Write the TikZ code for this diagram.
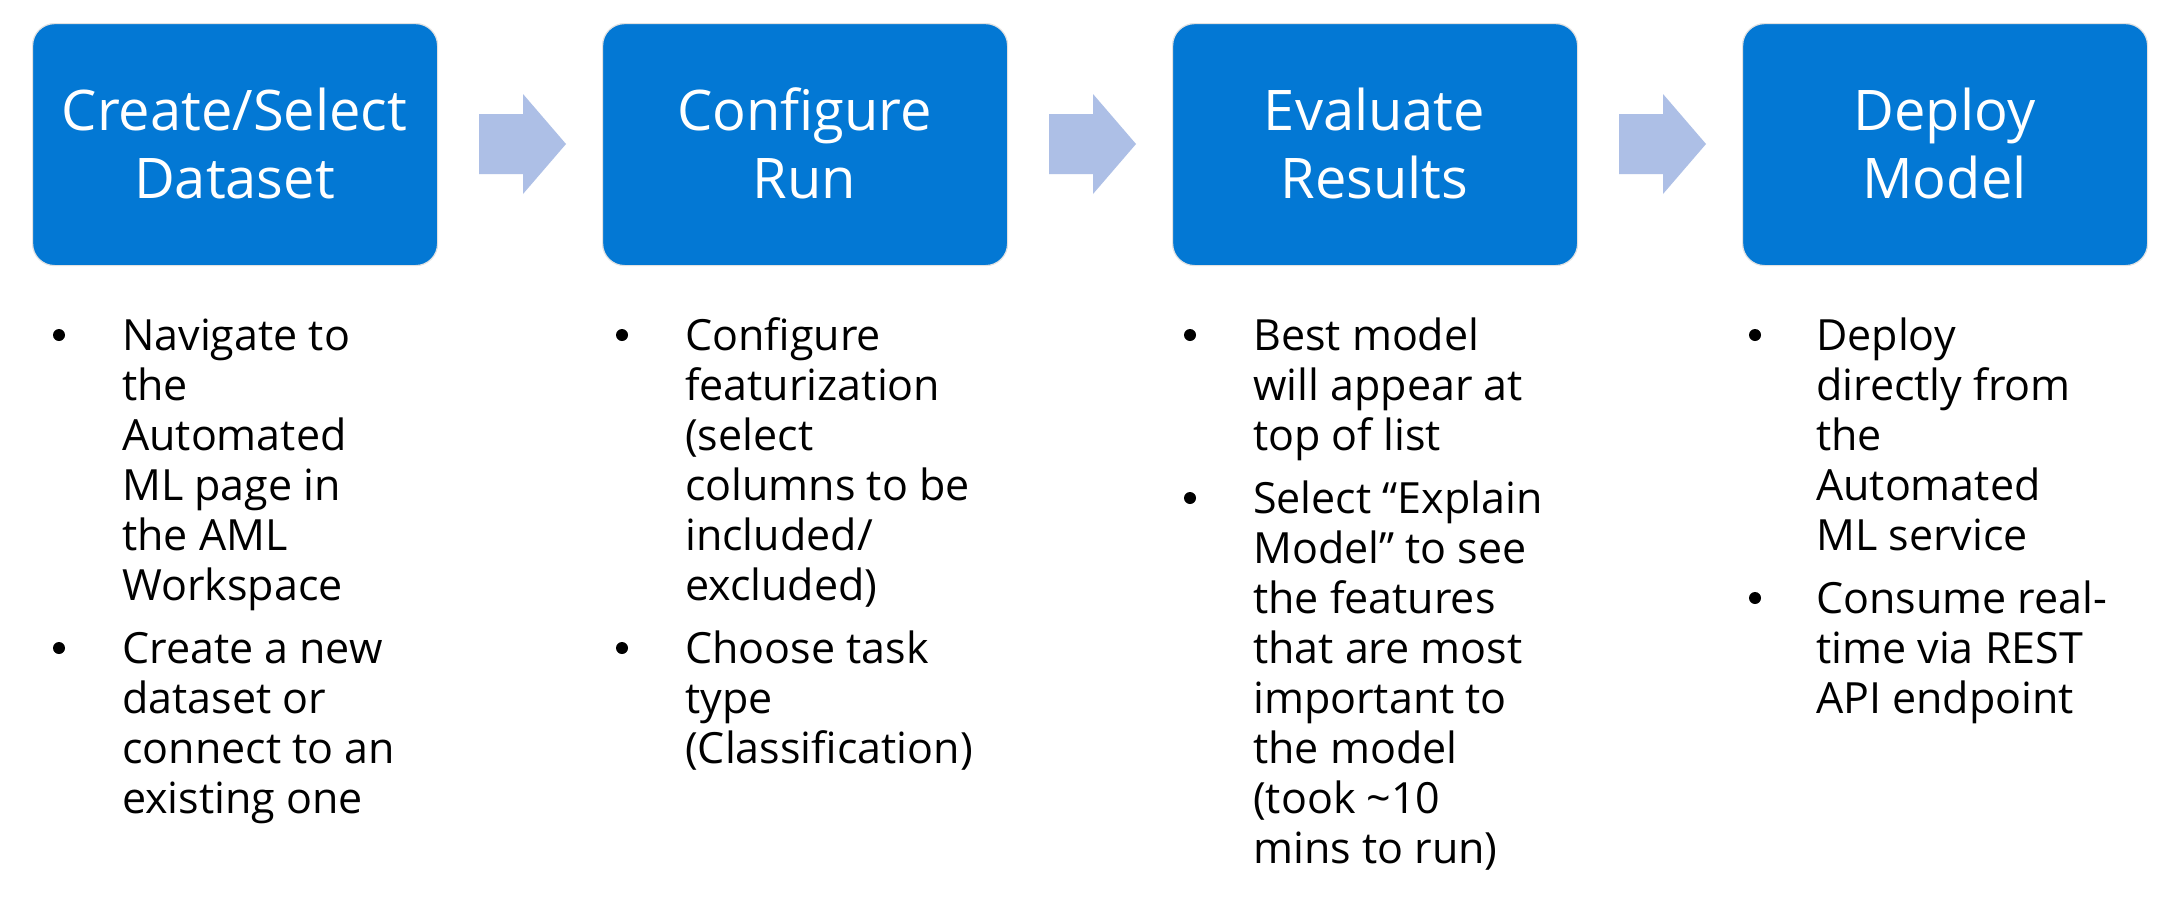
\documentclass[tikz,border=0pt]{standalone}
\usepackage{fontspec}
\setmainfont{Open Sans}
\definecolor{boxblue}{HTML}{0378D4}
\definecolor{arrowblue}{HTML}{ADBFE6}
\definecolor{boxedge}{HTML}{E2E2E2}
\tikzset{
  stepbox/.style={draw=boxedge, line width=1.2pt, fill=boxblue, rounded corners=22pt,
    minimum width=405pt, minimum height=242pt, inner sep=0pt, anchor=north west},
  titletext/.style={anchor=base, inner sep=0pt, text=white, font=\fontsize{56}{68}\selectfont},
  bultext/.style={anchor=base west, inner sep=0pt, font=\fontsize{43}{50}\selectfont},
  bulletdot/.style={circle, fill=black, inner sep=0pt, minimum size=12pt},
  blockarrow/.style={fill=arrowblue}
}
\begin{document}
\begin{tikzpicture}[x=1pt,y=-1pt]
\useasboundingbox (0,0) rectangle (2163,903);
\fill[white] (0,0) rectangle (2163,903);

% step boxes
\node[stepbox] (b1) at (32,23) {};
\node[stepbox] (b2) at (602,23) {};
\node[stepbox] (b3) at (1172,23) {};
\node[stepbox] (b4) at (1742,23) {};

% titles
\node[titletext] (t1) at (234.5,130) {\parbox[t]{400pt}{\centering Create/Select\\Dataset}};
\node[titletext] (t2) at (804.5,130) {\parbox[t]{400pt}{\centering Configure\\Run}};
\node[titletext] (t3) at (1374.5,130) {\parbox[t]{400pt}{\centering Evaluate\\Results}};
\node[titletext] (t4) at (1944.5,130) {\parbox[t]{400pt}{\centering Deploy\\Model}};

% block arrows
\foreach \dx in {0,570,1140} {
  \fill[blockarrow, xshift=\dx pt] (479,114) -- (523,114) -- (523,94) -- (566,144)
    -- (523,194) -- (523,174) -- (479,174) -- cycle;
}

% column 1
\node[bulletdot] (d11) at (59,335) {};
\node[bultext] (p11) at (122,350) {\parbox[t]{420pt}{\raggedright Navigate to\\the\\Automated\\ML page in\\the AML\\Workspace}};
\node[bulletdot] (d12) at (59,648) {};
\node[bultext] (p12) at (122,663) {\parbox[t]{420pt}{\raggedright Create a new\\dataset or\\connect to an\\existing one}};

% column 2
\node[bulletdot] (d21) at (622,335) {};
\node[bultext] (p21) at (685,350) {\parbox[t]{420pt}{\raggedright Configure\\featurization\\(select\\columns to be\\included/\\excluded)}};
\node[bulletdot] (d22) at (622,648) {};
\node[bultext] (p22) at (685,663) {\parbox[t]{420pt}{\raggedright Choose task\\type\\(Classification)}};

% column 3
\node[bulletdot] (d31) at (1190,335) {};
\node[bultext] (p31) at (1253,350) {\parbox[t]{420pt}{\raggedright Best model\\will appear at\\top of list}};
\node[bulletdot] (d32) at (1190,498) {};
\node[bultext] (p32) at (1253,513) {\parbox[t]{420pt}{\raggedright Select “Explain\\Model” to see\\the features\\that are most\\important to\\the model\\(took \textasciitilde10\\mins to run)}};

% column 4
\node[bulletdot] (d41) at (1755,335) {};
\node[bultext] (p41) at (1816,350) {\parbox[t]{420pt}{\raggedright Deploy\\directly from\\the\\Automated\\ML service}};
\node[bulletdot] (d42) at (1755,598) {};
\node[bultext] (p42) at (1816,613) {\parbox[t]{420pt}{\raggedright Consume real-\\time via REST\\API endpoint}};
\end{tikzpicture}
\end{document}
